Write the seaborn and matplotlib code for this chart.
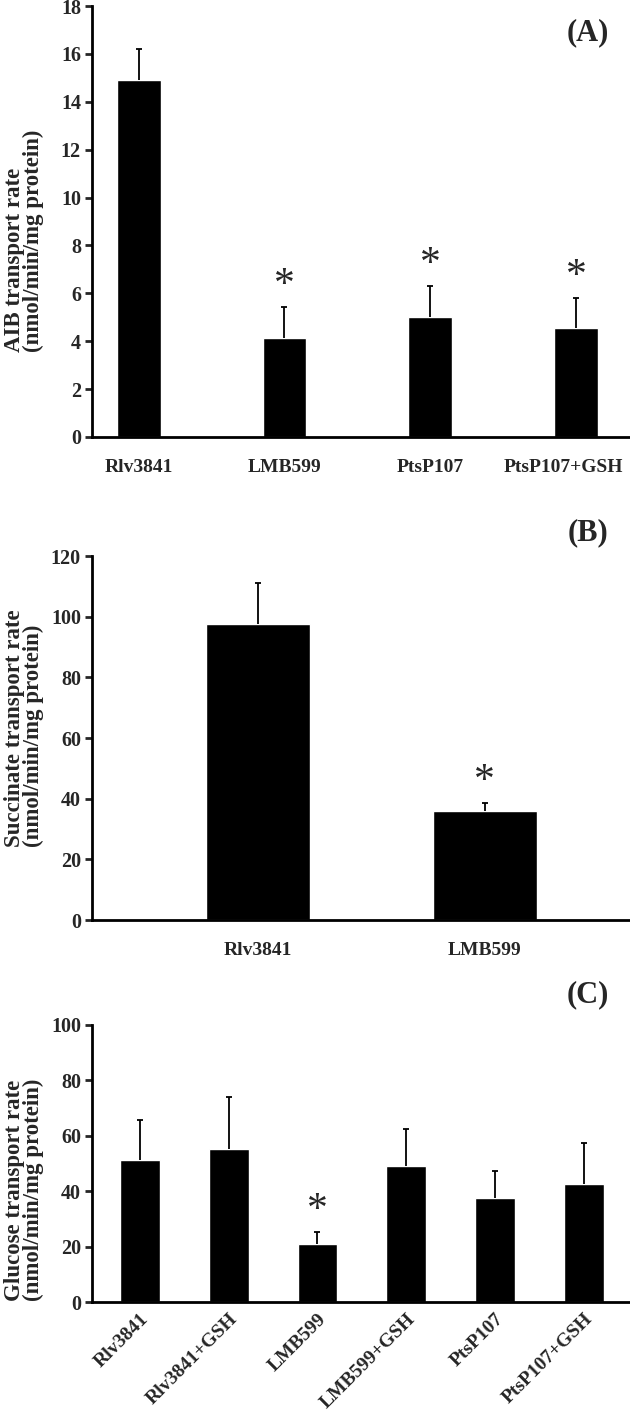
import numpy as np
import pandas as pd
import matplotlib
matplotlib.use("Agg")
import matplotlib.pyplot as plt
import matplotlib.transforms as mtransforms
import seaborn as sns

# Panel A: AIB transport
aib_strains = ["Rlv3841", "LMB599", "PtsP107", "PtsP107+GSH"]
aib_rate = [14.9, 4.15, 5.0, 4.55]
aib_err = [1.3, 1.3, 1.3, 1.25]
aib_sig = [False, True, True, True]

# Panel B: succinate transport
succ_strains = ["Rlv3841", "LMB599"]
succ_rate = [97.5, 36.0]
succ_err = [13.5, 2.7]
succ_sig = [False, True]

# Panel C: glucose transport
glc_strains = ["Rlv3841", "Rlv3841+GSH", "LMB599", "LMB599+GSH", "PtsP107", "PtsP107+GSH"]
glc_rate = [51.3, 55.2, 20.9, 49.1, 37.6, 42.6]
glc_err = [14.4, 18.8, 4.5, 13.2, 9.7, 14.9]
glc_sig = [False, False, True, False, False, False]

sns.set_theme(style="ticks")
plt.rcParams['font.family'] = ['Liberation Serif', 'DejaVu Serif']
plt.rcParams['font.weight'] = 'bold'
plt.rcParams['axes.labelweight'] = 'bold'

fig = plt.figure(figsize=(6.3, 14.16), dpi=100)
H = 1416.0
W = 630.0


# axes rectangles from pixel positions
def rect(top, bottom, left=92, right=630):
    return [left / W, 1 - bottom / H, (right - left) / W, (bottom - top) / H]


def panel(top, bottom, strains, rate, err, sig, ylim, yticks, ylabel, label_y,
          xlim, bw, rot=0):
    ax = fig.add_axes(rect(top, bottom))
    df = pd.DataFrame({"strain": strains, "rate": rate})
    sns.barplot(data=df, x="strain", y="rate", color="black", width=bw,
                errorbar=None, saturation=1, ax=ax)
    x = np.arange(len(strains))
    eb = ax.errorbar(x, rate, yerr=[np.zeros(len(err)), err], fmt="none",
                     ecolor="black", elinewidth=1.3, capsize=2.5, capthick=1.3)
    eb[1][0].set_visible(False)  # hide the cap sitting on the bar top
    # star sits ~21 px above the error bar top
    px_per_unit = (bottom - top) / (ylim[1] - ylim[0])
    for xi, r, e, s in zip(x, rate, err, sig):
        if s:
            ax.text(xi, r + e + 21 / px_per_unit, "*", ha="center", va="center",
                    fontsize=30, fontweight="normal")
    ax.set_ylim(*ylim)
    ax.set_xlim(*xlim)
    ax.set_yticks(yticks)
    ax.set_yticklabels([str(t) for t in yticks], fontsize=14.5, fontweight="bold")
    ax.set_xlabel("")
    ax.set_ylabel(ylabel, fontsize=16.5, fontweight="bold", linespacing=0.85,
                  multialignment="left")
    ax.yaxis.set_label_coords(-0.09, label_y)
    if rot:
        ax.set_xticks(x)
        ax.set_xticklabels(strains, rotation=rot, ha="right", va="top",
                           rotation_mode="anchor", fontsize=14, fontweight="bold")
        ax.tick_params(axis="x", length=0, pad=6)
    else:
        ax.set_xticklabels(strains, fontsize=14, fontweight="bold")
        ax.tick_params(axis="x", length=0, pad=16)
    ax.tick_params(axis="y", length=5, width=2, direction="out", pad=3)
    sns.despine(ax=ax)
    for sp in ("left", "bottom"):
        ax.spines[sp].set_linewidth(2)
        ax.spines[sp].set_color("black")
    ax.set_facecolor("white")
    return ax


axA = panel(6, 437, aib_strains, aib_rate, aib_err, aib_sig, (0, 18),
            list(range(0, 19, 2)), "AIB transport rate\n(nmol/min/mg protein)", 0.455,
            (-0.32, 3.37), 0.3)
# last label is pushed left to stay inside the figure
lab = axA.get_xticklabels()[-1]
lab.set_transform(lab.get_transform() + mtransforms.ScaledTranslation(-13 / 100, 0, fig.dpi_scale_trans))

panel(556, 920, succ_strains, succ_rate, succ_err, succ_sig, (0, 120),
      list(range(0, 121, 20)), "Succinate transport rate\n(nmol/min/mg protein)", 0.527,
      (-0.73, 1.64), 0.46)
panel(1025, 1302, glc_strains, glc_rate, glc_err, glc_sig, (0, 100),
      list(range(0, 101, 20)), "Glucose transport rate\n(nmol/min/mg protein)", 0.404,
      (-0.54, 5.52), 0.45, rot=45)

for tag, ypx in [("(A)", 33), ("(B)", 533), ("(C)", 995)]:
    fig.text(588 / W, 1 - ypx / H, tag, ha="center", va="center",
             fontsize=22, fontweight="bold")

fig.savefig("out.png", dpi=100, facecolor="white")
